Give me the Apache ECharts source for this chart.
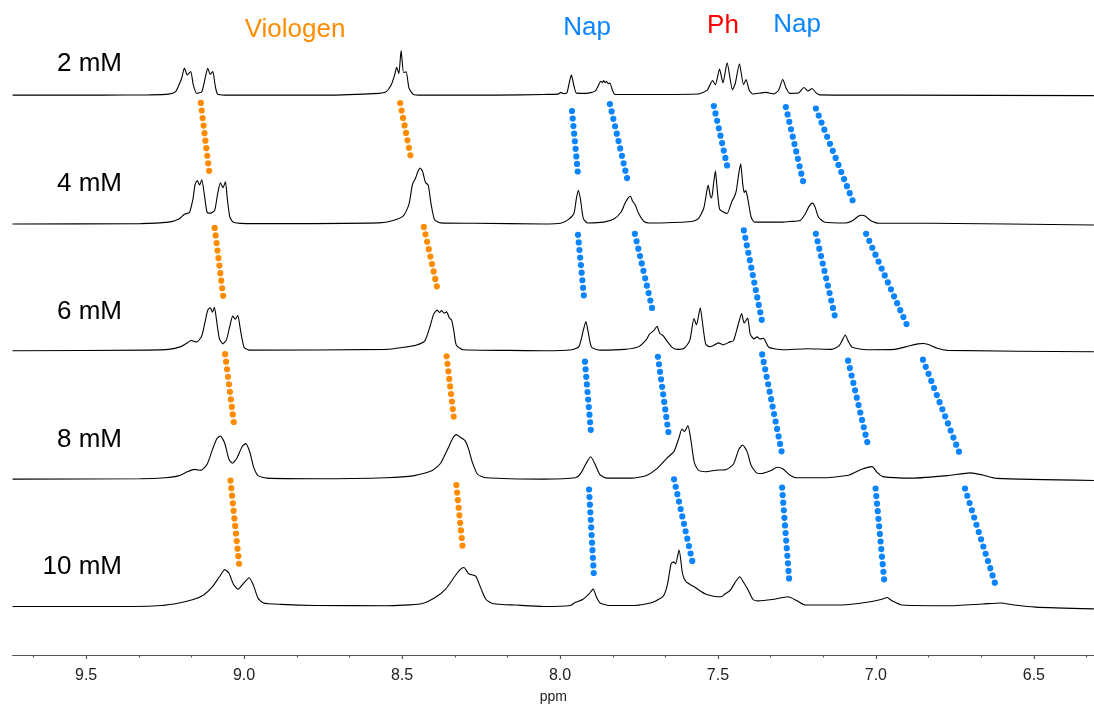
<!DOCTYPE html>
<html><head><meta charset="utf-8">
<script src="https://cdn.jsdelivr.net/npm/echarts@6/dist/echarts.min.js"></script>
<style>html,body{margin:0;padding:0;background:#fff}#c{width:1094px;height:709px}</style>
</head><body><div id="c"></div>
<script>
// concentration labels and vertical offsets of each stacked trace
const concLabels = ['2 mM', '4 mM', '6 mM', '8 mM', '10 mM'];
const baselineOffsets = [565, 435, 307, 177.5, 49];

// spectra: [ppm, intensity above baseline]
const spec2mM = [[9.733,0],[9.45,0],[9.30,0.3],[9.239,1],[9.217,3.5],[9.206,10.5],[9.197,17.5],[9.189,27.4],[9.180,20.4],[9.169,23.9],[9.161,10.5],[9.150,1.8],[9.134,3.5],[9.123,17.5],[9.115,27],[9.107,21],[9.099,23.9],[9.092,10.5],[9.084,1],[9.061,0],[8.75,0],[8.573,1.8],[8.550,3.5],[8.534,10.5],[8.523,21],[8.517,28],[8.510,21.8],[8.503,45],[8.495,22.8],[8.487,23.5],[8.478,7],[8.464,0.7],[8.439,0],[8.2,0],[8.051,0.7],[8.006,1],[7.997,2.8],[7.989,1.4],[7.978,2.5],[7.971,12],[7.964,20.4],[7.957,11],[7.948,2],[7.917,1.8],[7.889,4],[7.878,10],[7.871,14],[7.866,12.5],[7.862,14.7],[7.857,12.5],[7.853,14],[7.847,11.5],[7.842,12.3],[7.834,5],[7.826,0.7],[7.717,0.7],[7.562,1.2],[7.534,5],[7.517,14.7],[7.508,10.5],[7.495,26.3],[7.484,12.3],[7.471,32.6],[7.454,5.3],[7.445,12],[7.432,31.6],[7.419,10.5],[7.411,15.8],[7.401,5],[7.390,1.2],[7.348,2.8],[7.323,1.2],[7.308,5],[7.295,15.8],[7.284,7],[7.273,1.8],[7.245,2.1],[7.228,7.7],[7.215,4.2],[7.202,6.7],[7.190,2.5],[7.178,0.3],[6.940,0],[6.310,-0.5]];

const spec4mM = [[9.733,0],[9.328,0.3],[9.239,1.8],[9.206,4.9],[9.189,9.8],[9.173,11.6],[9.162,25],[9.155,40],[9.148,43.9],[9.141,39.3],[9.134,44.6],[9.126,30],[9.117,11.6],[9.106,10.9],[9.093,14],[9.084,30],[9.075,41.4],[9.067,36.5],[9.059,42.5],[9.053,25],[9.045,7],[9.034,1.8],[8.973,0.3],[8.573,1.1],[8.528,3.5],[8.495,8.4],[8.478,20],[8.467,40],[8.458,45.6],[8.450,52.6],[8.443,56.5],[8.435,53],[8.426,42],[8.417,39],[8.408,20],[8.397,4.2],[8.378,1.1],[8.273,0.7],[8.051,0],[7.995,1],[7.973,4.6],[7.956,10.5],[7.948,26],[7.942,34],[7.935,24.6],[7.926,5.3],[7.912,1],[7.862,1.8],[7.828,5.3],[7.806,12.3],[7.795,20.4],[7.784,26.3],[7.777,28],[7.771,23.5],[7.762,19.3],[7.751,10.5],[7.734,2.5],[7.717,1],[7.584,2.5],[7.562,5.3],[7.545,15.8],[7.537,29.8],[7.531,39.3],[7.524,28],[7.520,26.3],[7.514,40],[7.508,53.7],[7.503,37],[7.495,15],[7.484,12.3],[7.471,10.5],[7.456,22.8],[7.448,27.4],[7.442,33.3],[7.434,51],[7.428,60.7],[7.422,42],[7.417,31.6],[7.412,34],[7.406,26.3],[7.395,7],[7.384,1.8],[7.295,1.8],[7.273,2.5],[7.240,3.5],[7.223,10.5],[7.212,17.5],[7.201,21],[7.193,17.5],[7.182,7],[7.162,1.8],[7.095,1],[7.073,3.5],[7.056,7.7],[7.045,8.8],[7.034,8],[7.017,3.5],[6.990,0.7],[6.828,0.7],[6.310,-1.1]];

const spec6mM = [[9.733,0],[9.306,0.7],[9.239,1.4],[9.200,4.2],[9.178,8.4],[9.167,10.5],[9.159,9.5],[9.150,8.8],[9.134,15],[9.123,30],[9.115,41],[9.107,43.5],[9.100,39],[9.094,44],[9.086,28],[9.078,12],[9.067,7],[9.056,11],[9.045,25],[9.036,35],[9.028,32],[9.020,35.5],[9.011,20],[9.000,3.5],[8.984,0.7],[8.550,1.4],[8.495,3.5],[8.456,5.6],[8.428,10],[8.411,25],[8.400,37],[8.389,41],[8.381,38.6],[8.375,40.7],[8.367,38],[8.359,39.3],[8.350,33],[8.343,31],[8.336,20],[8.328,5.6],[8.306,1],[8.161,0.4],[8.051,0],[7.962,1],[7.940,4.2],[7.926,21],[7.918,29.5],[7.911,19.3],[7.900,3.5],[7.873,0.7],[7.795,1.4],[7.751,4.2],[7.726,11.6],[7.717,16.8],[7.704,20],[7.693,24.6],[7.684,17.5],[7.673,15.1],[7.662,10],[7.645,3.5],[7.628,1.4],[7.606,2.8],[7.589,10.5],[7.576,32.6],[7.568,26.3],[7.556,43.5],[7.548,26],[7.539,7],[7.528,4.2],[7.517,4.9],[7.498,8],[7.484,6],[7.462,9],[7.451,10],[7.437,25],[7.425,37.5],[7.417,28],[7.406,33],[7.398,17],[7.386,12],[7.376,14],[7.367,11.9],[7.356,12.6],[7.339,3.5],[7.295,1],[7.217,2.1],[7.140,1.4],[7.117,4.9],[7.106,11],[7.097,16],[7.088,10],[7.075,3.5],[7.028,1],[6.940,1.4],[6.895,4.9],[6.867,7],[6.851,7.4],[6.834,6.3],[6.806,2.5],[6.773,0.4],[6.310,-1]];

const spec8mM = [[9.733,0],[9.328,0.4],[9.250,1.4],[9.206,3.5],[9.178,7.7],[9.156,9.8],[9.137,8.8],[9.117,15],[9.100,30],[9.086,41],[9.075,43.5],[9.061,36],[9.048,20],[9.037,16],[9.023,21],[9.006,33],[8.995,35.8],[8.982,27.4],[8.970,12.3],[8.956,3.5],[8.928,1],[8.773,0.4],[8.550,1.4],[8.461,3.5],[8.406,8.4],[8.378,16],[8.356,30],[8.339,41.4],[8.328,44.9],[8.317,42.5],[8.300,38.6],[8.289,30],[8.278,17.5],[8.261,4.9],[8.234,1.4],[8.051,0],[7.951,1.4],[7.934,6],[7.917,16],[7.903,22.5],[7.889,15],[7.873,4.2],[7.851,1],[7.773,1],[7.728,3.5],[7.695,10],[7.662,21],[7.639,28],[7.623,42],[7.614,50.5],[7.606,48],[7.595,54],[7.586,40],[7.575,17],[7.562,9],[7.540,7.4],[7.506,9],[7.473,9.8],[7.451,15],[7.434,30],[7.422,34.4],[7.408,28],[7.395,14],[7.378,6.3],[7.362,5.6],[7.334,8.4],[7.312,12],[7.295,10.5],[7.273,4.2],[7.251,1.4],[7.162,1.4],[7.084,4.2],[7.045,10],[7.012,12.6],[6.997,7],[6.978,2.5],[6.884,1],[6.773,3.5],[6.701,6.3],[6.662,4.2],[6.617,0.7],[6.310,-1.4]];

const spec10mM = [[9.733,0],[9.350,0],[9.261,1],[9.206,3.5],[9.161,7],[9.128,11.6],[9.100,20],[9.078,30],[9.061,37.2],[9.048,33.7],[9.034,22.5],[9.019,17.5],[9.000,24],[8.984,29],[8.970,21],[8.956,8.4],[8.939,3.5],[8.884,2.1],[8.773,1],[8.550,0.7],[8.439,2.8],[8.395,9],[8.362,17.5],[8.334,30],[8.317,37],[8.304,39.3],[8.289,33],[8.267,30.5],[8.250,18],[8.234,7],[8.211,2.8],[8.139,1.4],[8.051,0],[7.967,1],[7.951,4.2],[7.928,7],[7.908,12.6],[7.895,17.5],[7.884,9],[7.873,3.5],[7.845,1],[7.762,1],[7.706,4.2],[7.673,10.5],[7.660,22],[7.648,43.5],[7.640,45],[7.634,43],[7.623,57],[7.612,33],[7.601,25],[7.573,19.3],[7.540,12.6],[7.501,9.8],[7.489,9.8],[7.478,12.6],[7.462,16],[7.445,24.6],[7.431,30],[7.420,25],[7.406,17.5],[7.389,7],[7.373,5.6],[7.328,7],[7.278,9.8],[7.251,6],[7.223,1.4],[7.106,1.4],[7.028,4.2],[6.984,7],[6.964,9],[6.951,6],[6.917,1.4],[6.773,0.7],[6.662,2.5],[6.606,3.5],[6.562,1.4],[6.495,-0.7],[6.310,-2.5]];

// shift trails: [start [ppm, y], end [ppm, y]]
const viologenTrails = [
  [[9.137,557.1],[9.110,486.4]], [[8.506,557],[8.473,503.3]],
  [[9.093,431],[9.066,361.5]], [[8.431,432],[8.389,371]],
  [[9.060,303.6],[9.032,233.3]], [[8.359,301.5],[8.336,239.2]],
  [[9.043,176],[9.015,89.4]], [[8.328,171.5],[8.308,108]]
];
const napPhTrails = [
  [[7.962,549],[7.943,485]], [[7.842,556],[7.786,479]], [[7.513,554],[7.469,491]], [[7.285,553],[7.229,476]], [[7.190,551.5],[7.071,456.6]],
  [[7.943,424],[7.923,357.7]], [[7.763,425],[7.704,344]], [[7.418,428.5],[7.360,336]], [[7.190,425],[7.126,336.6]], [[7.031,425],[6.895,328.2]],
  [[7.921,296],[7.901,221.2]], [[7.690,301],[7.656,223]], [[7.360,303.3],[7.297,203]], [[7.088,297],[7.023,209]], [[6.851,298],[6.734,202.6]],
  [[7.908,167],[7.892,76.4]], [[7.639,177.3],[7.580,93]], [[7.297,169],[7.273,70]], [[7.001,168],[6.973,73]], [[6.718,168],[6.620,69.4]]
];

// axis ticks
const majorTicks = [9.5, 9.0, 8.5, 8.0, 7.5, 7.0, 6.5];
const minorTicks = [9.667, 9.333, 9.167, 8.833, 8.667, 8.333, 8.167, 7.833, 7.667, 7.333, 7.167, 6.833, 6.667, 6.333];

const FONT = '"Liberation Sans", Arial, sans-serif';
const chart = echarts.init(document.getElementById('c'));
const specs = [spec2mM, spec4mM, spec6mM, spec8mM, spec10mM];
const series = [];
specs.forEach((s, i) => {
  series.push({
    type: 'line', data: s.map(p => [p[0], p[1] + baselineOffsets[i]]),
    symbol: 'none', smooth: 0.2, silent: true, animation: false, z: 3,
    lineStyle: { color: '#000', width: 1.1 }
  });
});
function addTrails(trails, color) {
  trails.forEach(t => series.push({
    type: 'line', data: t, symbol: 'none', silent: true, animation: false, z: 4,
    lineStyle: { color: color, width: 6.2, type: [0, 7.6], cap: 'round' }
  }));
}
addTrails(viologenTrails, '#FF8C00');
addTrails(napPhTrails, '#0A84FF');

const xMin = 6.3096, xMax = 9.7328;
chart.setOption({
  animation: false,
  grid: { left: 12.6, right: 0, top: 0, bottom: 48 },
  xAxis: [{
    type: 'value', inverse: true, min: xMin, max: xMax, position: 'bottom',
    name: 'ppm', nameLocation: 'middle', nameGap: 35,
    nameTextStyle: { fontFamily: FONT, fontSize: 14, color: '#222' },
    axisLine: { show: true, lineStyle: { color: '#555', width: 1.2 } },
    axisTick: { show: true, length: 4, customValues: majorTicks, lineStyle: { color: '#555', width: 1.2 } },
    axisLabel: { customValues: majorTicks, margin: 13, fontFamily: FONT, fontSize: 16, color: '#222', formatter: v => v.toFixed(1) },
    splitLine: { show: false }
  }, {
    type: 'value', inverse: true, min: xMin, max: xMax, position: 'bottom',
    axisLine: { show: false },
    axisTick: { show: true, length: 2.5, customValues: minorTicks, lineStyle: { color: '#555', width: 1.2 } },
    axisLabel: { show: false }, splitLine: { show: false }
  }],
  yAxis: { type: 'value', min: 0, max: 661, show: false },
  series: series,
  graphic: [
    ...concLabels.map((t, i) => ({
      type: 'text', x: 122, y: [64, 184, 312, 440, 567][i],
      style: { text: t, align: 'right', verticalAlign: 'middle', font: '26px ' + FONT, fill: '#000' }
    })),
    { type: 'text', x: 295, y: 30, style: { text: 'Viologen', align: 'center', verticalAlign: 'middle', font: '26px ' + FONT, fill: '#FF8C00' } },
    { type: 'text', x: 587, y: 28, style: { text: 'Nap', align: 'center', verticalAlign: 'middle', font: '26px ' + FONT, fill: '#0A84FF' } },
    { type: 'text', x: 723, y: 26, style: { text: 'Ph', align: 'center', verticalAlign: 'middle', font: '26px ' + FONT, fill: '#FF0000' } },
    { type: 'text', x: 797, y: 25, style: { text: 'Nap', align: 'center', verticalAlign: 'middle', font: '26px ' + FONT, fill: '#0A84FF' } }
  ]
});
</script></body></html>
